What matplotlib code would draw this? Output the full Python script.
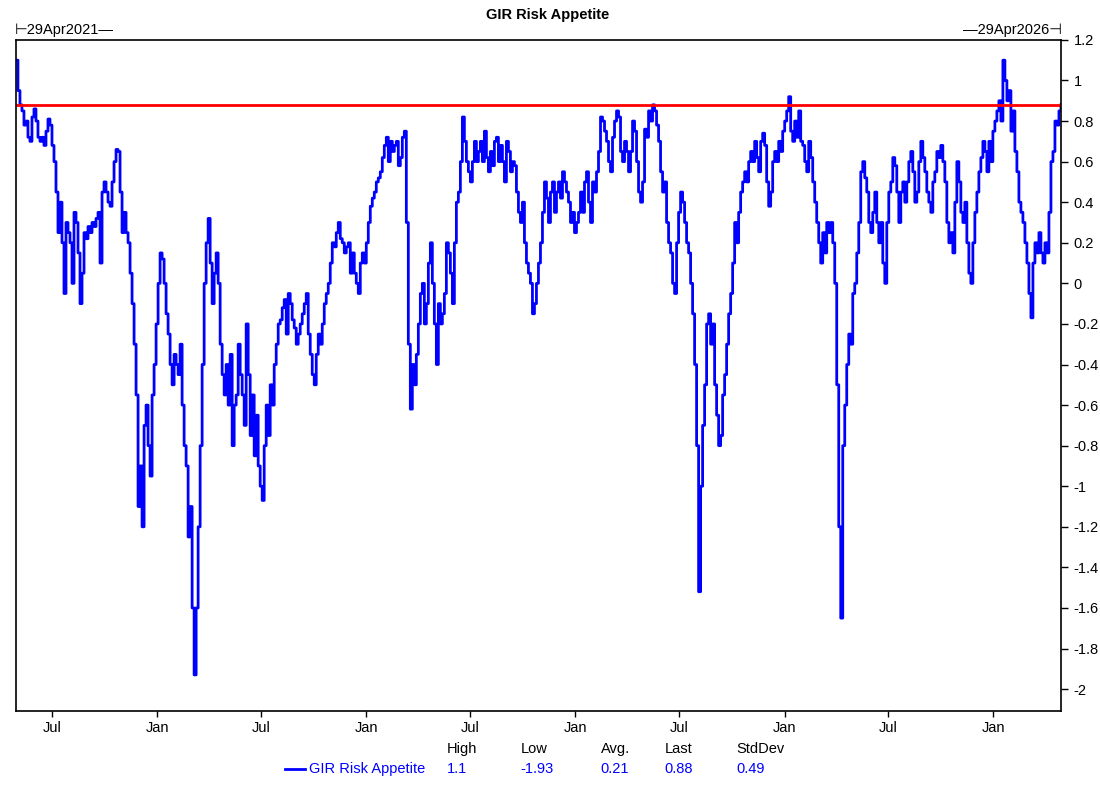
import matplotlib
matplotlib.use("Agg")
import matplotlib.pyplot as plt
import matplotlib.dates as mdates
import pandas as pd

# series: GIR Risk Appetite (evenly spaced, ~3.5 days apart)
start_date = "2021-04-29"
end_date = "2026-04-29"
risk_appetite = [
    1.1, 0.95, 0.88, 0.85, 0.78, 0.8, 0.72, 0.7, 0.82, 0.86, 0.8, 0.72, 0.7, 0.72, 0.68, 0.75, 0.81, 0.78,
    0.68, 0.6, 0.45, 0.25, 0.4, 0.2, -0.05, 0.3, 0.25, 0.2, 0.0, 0.35, 0.3, 0.15, -0.1, 0.05, 0.25, 0.22,
    0.28, 0.25, 0.3, 0.28, 0.32, 0.35, 0.1, 0.45, 0.5, 0.45, 0.4, 0.38, 0.5, 0.6, 0.66, 0.65, 0.45, 0.25,
    0.35, 0.25, 0.2, 0.05, -0.1, -0.3, -0.55, -1.1, -0.9, -1.2, -0.7, -0.6, -0.8, -0.95, -0.55, -0.4, -0.2,
    0.0, 0.15, 0.12, 0.0, -0.15, -0.25, -0.4, -0.5, -0.35, -0.4, -0.45, -0.3, -0.6, -0.8, -0.9, -1.25,
    -1.1, -1.6, -1.93, -1.6, -1.2, -0.8, -0.4, 0.0, 0.2, 0.32, 0.1, -0.1, 0.05, 0.15, 0.0, -0.3, -0.45,
    -0.55, -0.4, -0.6, -0.35, -0.8, -0.6, -0.55, -0.3, -0.45, -0.55, -0.7, -0.2, -0.45, -0.75, -0.55,
    -0.85, -0.65, -0.9, -1.0, -1.07, -0.8, -0.6, -0.75, -0.5, -0.6, -0.4, -0.3, -0.2, -0.18, -0.12, -0.08,
    -0.25, -0.05, -0.1, -0.18, -0.22, -0.3, -0.25, -0.2, -0.15, -0.1, -0.05, -0.25, -0.35, -0.45, -0.5,
    -0.35, -0.25, -0.3, -0.2, -0.1, -0.05, 0.0, 0.1, 0.2, 0.18, 0.25, 0.3, 0.22, 0.2, 0.15, 0.18, 0.2,
    0.05, 0.15, 0.05, 0.0, -0.05, 0.1, 0.15, 0.1, 0.2, 0.3, 0.38, 0.42, 0.45, 0.5, 0.52, 0.55, 0.62, 0.68,
    0.72, 0.6, 0.7, 0.65, 0.68, 0.7, 0.58, 0.62, 0.72, 0.75, 0.3, -0.3, -0.62, -0.4, -0.5, -0.35, -0.2,
    -0.05, 0.0, -0.2, -0.1, 0.1, 0.2, 0.0, -0.2, -0.4, -0.1, -0.2, -0.15, -0.05, 0.2, 0.15, 0.05, -0.1,
    0.2, 0.4, 0.45, 0.6, 0.82, 0.7, 0.6, 0.55, 0.5,
    0.6, 0.7, 0.6, 0.65, 0.7, 0.6, 0.75, 0.62, 0.55, 0.65, 0.58, 0.7, 0.72, 0.6, 0.68, 0.6, 0.5, 0.7,
    0.65, 0.55, 0.6, 0.58, 0.45, 0.35, 0.3, 0.4, 0.2, 0.1, 0.05, 0.0, -0.15, -0.1, 0.0, 0.1, 0.2, 0.35,
    0.5, 0.42, 0.3, 0.45, 0.5, 0.35, 0.45, 0.5, 0.42, 0.55, 0.5, 0.45, 0.4, 0.3, 0.35, 0.25, 0.3, 0.35,
    0.45, 0.35, 0.5, 0.55, 0.4, 0.3, 0.5, 0.45, 0.55, 0.65, 0.82, 0.8, 0.75, 0.7, 0.6, 0.55, 0.72, 0.8,
    0.85, 0.82, 0.65, 0.6, 0.7, 0.65, 0.55, 0.65, 0.8, 0.75, 0.6, 0.45, 0.4, 0.5, 0.76, 0.72, 0.85, 0.8,
    0.88, 0.85, 0.78, 0.7, 0.55, 0.45, 0.5, 0.3, 0.2, 0.15, 0.0, -0.05, 0.2, 0.35, 0.45, 0.4, 0.3, 0.2,
    0.15, 0.0, -0.15, -0.4, -0.8, -1.52, -1.0, -0.7, -0.5, -0.2, -0.15, -0.3, -0.2, -0.5, -0.65, -0.8,
    -0.75, -0.55, -0.45, -0.3, -0.15, -0.05, 0.1, 0.3, 0.2, 0.35, 0.45, 0.5, 0.55, 0.5, 0.6, 0.65, 0.6,
    0.7, 0.62, 0.55, 0.7, 0.74, 0.68, 0.5, 0.38, 0.45, 0.6, 0.65, 0.6, 0.7, 0.65, 0.75, 0.8, 0.85, 0.92,
    0.75, 0.7, 0.8, 0.72, 0.85, 0.7, 0.68, 0.6, 0.55, 0.7, 0.62, 0.5, 0.4, 0.3, 0.2, 0.1, 0.25, 0.15,
    0.3, 0.25, 0.3, 0.2, 0.0, -0.5, -1.2, -1.65, -0.8, -0.6, -0.4, -0.25, -0.3, -0.05, 0.0, 0.15, 0.3,
    0.55, 0.6, 0.52, 0.45, 0.3, 0.25, 0.35, 0.45, 0.3, 0.2, 0.3, 0.1, 0.0, 0.3, 0.45, 0.5, 0.62, 0.58,
    0.45, 0.3, 0.45, 0.5, 0.4, 0.5, 0.6, 0.65, 0.55, 0.4, 0.45, 0.6, 0.7, 0.62, 0.55, 0.45, 0.4, 0.35,
    0.5, 0.55, 0.65, 0.62, 0.68, 0.6, 0.5, 0.3, 0.2, 0.25, 0.15, 0.4, 0.6, 0.5, 0.35, 0.3, 0.4, 0.2,
    0.05, 0.0, 0.2, 0.35, 0.45, 0.55, 0.62, 0.7, 0.65, 0.55, 0.7, 0.6, 0.75, 0.8, 0.85, 0.9, 0.8, 1.1,
    1.0, 0.9, 0.95, 0.75, 0.85, 0.65, 0.55, 0.4, 0.35, 0.3, 0.2, 0.1, -0.05, -0.17, 0.1, 0.2, 0.15, 0.25,
    0.15, 0.1, 0.2, 0.15, 0.35, 0.6, 0.65, 0.8, 0.78, 0.85, 0.88,
]
last_level = 0.88

stat_names = ["High", "Low", "Avg.", "Last", "StdDev"]
stat_values = ["1.1", "-1.93", "0.21", "0.88", "0.49"]
series_name = "GIR Risk Appetite"

dates = pd.date_range(start_date, end_date, periods=len(risk_appetite))

plt.rcParams["font.family"] = ["Liberation Sans", "DejaVu Sans"]
plt.rcParams["font.size"] = 10.5

fig = plt.figure(figsize=(11, 7.98), dpi=100)
ax = fig.add_axes([0.0145, 0.109, 0.9500, 0.841])

ax.plot(dates, risk_appetite, color="#0000ff", lw=2.0, drawstyle="steps-post")
ax.axhline(last_level, color="#ff0000", lw=2.0)

ax.set_xlim(pd.Timestamp(start_date), pd.Timestamp(end_date))
ax.set_ylim(-2.108, 1.2)

# y axis on the right
ax.yaxis.tick_right()
ax.set_yticks([1.2, 1, 0.8, 0.6, 0.4, 0.2, 0, -0.2, -0.4, -0.6, -0.8, -1, -1.2, -1.4, -1.6, -1.8, -2])
ax.yaxis.set_major_formatter(plt.FuncFormatter(lambda v, p: f"{v:g}" if abs(v) > 1e-9 else "0"))
ax.tick_params(axis="y", direction="out", length=5, width=1, pad=4, labelsize=10.5)

ax.xaxis.set_major_locator(mdates.MonthLocator(bymonth=[1, 7]))
ax.xaxis.set_major_formatter(mdates.DateFormatter("%b"))
ax.tick_params(axis="x", direction="out", length=4, width=1, pad=3, labelsize=10.5)

for s in ax.spines.values():
    s.set_color("black")
    s.set_linewidth(1.2)

fig.text(0.498, 0.981, series_name, ha="center", va="center", fontweight="bold", fontsize=10.5)
fig.text(0.0135, 0.962, "\u22a229Apr2021\u2014", ha="left", va="center", fontsize=10.5)
fig.text(0.9655, 0.962, "\u201429Apr2026\u22a3", ha="right", va="center", fontsize=10.5)

# stats legend under the chart
stat_x = [0.406, 0.473, 0.546, 0.604, 0.669]
for x, name, val in zip(stat_x, stat_names, stat_values):
    fig.text(x, 0.061, name, ha="left", va="center", color="black", fontsize=10.5)
    fig.text(x, 0.036, val, ha="left", va="center", color="#0000ff", fontsize=10.5)
fig.add_artist(plt.Line2D([0.259, 0.277], [0.036, 0.036], color="#0000ff", lw=2.0))
fig.text(0.281, 0.036, series_name, ha="left", va="center", color="#0000ff", fontsize=10.5)

fig.savefig("out.png", dpi=100)
